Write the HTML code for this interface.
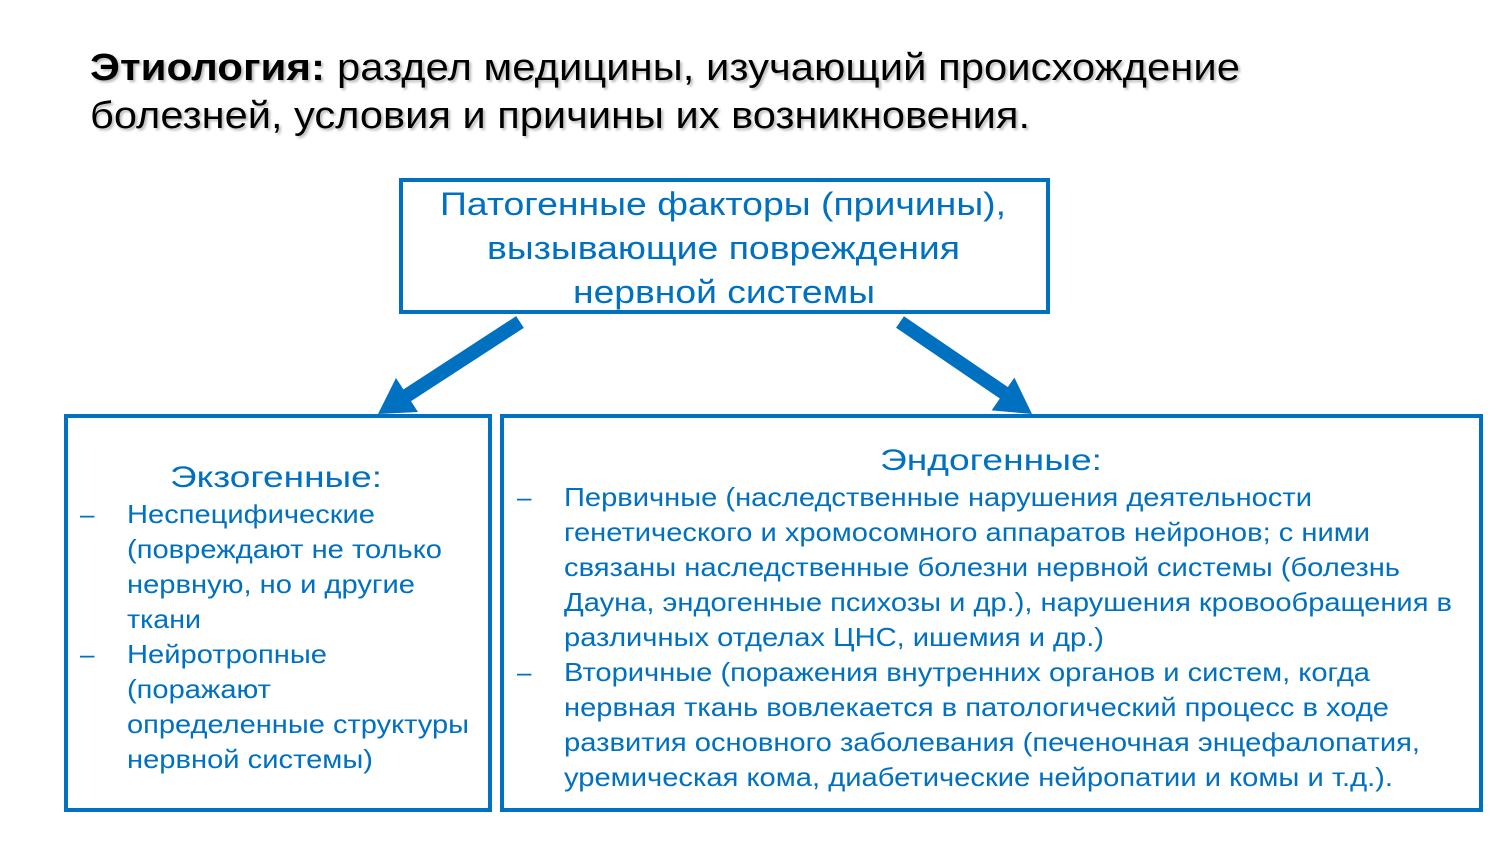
<!DOCTYPE html>
<html><head><meta charset="utf-8"><style>
html,body{margin:0;padding:0;background:#fff;}
svg{display:block;}
text{font-family:"Liberation Sans","DejaVu Sans",sans-serif;}
</style></head><body>
<svg width="1500" height="844" viewBox="0 0 1500 844" xmlns="http://www.w3.org/2000/svg">
<defs><filter id="sh" x="-5%" y="-20%" width="110%" height="150%"><feDropShadow dx="2" dy="2" stdDeviation="1.2" flood-color="#888" flood-opacity="0.6"/></filter></defs>
<g filter="url(#sh)" fill="#000" font-size="38">
<text x="90" y="80"><tspan font-weight="bold" textLength="235" lengthAdjust="spacingAndGlyphs">Этиология:</tspan></text>
<text x="337" y="80" textLength="903" lengthAdjust="spacingAndGlyphs">раздел медицины, изучающий происхождение</text>
<text x="90" y="128" textLength="940" lengthAdjust="spacingAndGlyphs">болезней, условия и причины их возникновения.</text>
</g>
<g fill="none" stroke="#0070C0" stroke-width="4">
<rect x="401" y="180" width="647" height="132"/>
<rect x="66" y="416" width="424" height="394"/>
<rect x="502" y="416" width="979" height="394"/>
</g>
<g stroke="#0070C0" stroke-width="14" fill="#0070C0">
<line x1="520" y1="322" x2="400" y2="400"/>
<line x1="900" y1="322" x2="1010" y2="397"/>
<polygon stroke="none" points="378,414 418,412 396,378"/>
<polygon stroke="none" points="1032,414 991.6,410.4 1014.4,377.6"/>
</g>
<g fill="#0070C0">
<g font-size="32">
<text x="440" y="215" textLength="566" lengthAdjust="spacingAndGlyphs">Патогенные факторы (причины),</text>
<text x="487" y="259" textLength="473" lengthAdjust="spacingAndGlyphs">вызывающие повреждения</text>
<text x="573" y="303" textLength="302" lengthAdjust="spacingAndGlyphs">нервной системы</text>
</g>
<g font-size="30">
<text x="170" y="487" textLength="212" lengthAdjust="spacingAndGlyphs">Экзогенные:</text>
<text x="880" y="470" textLength="222" lengthAdjust="spacingAndGlyphs">Эндогенные:</text>
</g>
<g font-size="26">
<text x="80" y="523">–</text>
<text x="127" y="523" textLength="248" lengthAdjust="spacingAndGlyphs">Неспецифические</text>
<text x="127" y="558" textLength="315" lengthAdjust="spacingAndGlyphs">(повреждают не только</text>
<text x="127" y="593" textLength="288" lengthAdjust="spacingAndGlyphs">нервную, но и другие</text>
<text x="127" y="628" textLength="74" lengthAdjust="spacingAndGlyphs">ткани</text>
<text x="80" y="663">–</text>
<text x="127" y="663" textLength="200" lengthAdjust="spacingAndGlyphs">Нейротропные</text>
<text x="127" y="698" textLength="144" lengthAdjust="spacingAndGlyphs">(поражают</text>
<text x="127" y="733" textLength="342" lengthAdjust="spacingAndGlyphs">определенные структуры</text>
<text x="127" y="768" textLength="246" lengthAdjust="spacingAndGlyphs">нервной системы)</text>

<text x="517" y="506">–</text>
<text x="564" y="506" textLength="748" lengthAdjust="spacingAndGlyphs">Первичные (наследственные нарушения деятельности</text>
<text x="564" y="541" textLength="806" lengthAdjust="spacingAndGlyphs">генетического и хромосомного аппаратов нейронов; с ними</text>
<text x="564" y="576" textLength="836" lengthAdjust="spacingAndGlyphs">связаны наследственные болезни нервной системы (болезнь</text>
<text x="564" y="611" textLength="888" lengthAdjust="spacingAndGlyphs">Дауна, эндогенные психозы и др.), нарушения кровообращения в</text>
<text x="564" y="646" textLength="540" lengthAdjust="spacingAndGlyphs">различных отделах ЦНС, ишемия и др.)</text>
<text x="517" y="681">–</text>
<text x="564" y="681" textLength="806" lengthAdjust="spacingAndGlyphs">Вторичные (поражения внутренних органов и систем, когда</text>
<text x="564" y="716" textLength="825" lengthAdjust="spacingAndGlyphs">нервная ткань вовлекается в патологический процесс в ходе</text>
<text x="564" y="751" textLength="856" lengthAdjust="spacingAndGlyphs">развития основного заболевания (печеночная энцефалопатия,</text>
<text x="564" y="786" textLength="829" lengthAdjust="spacingAndGlyphs">уремическая кома, диабетические нейропатии и комы и т.д.).</text>
</g>
</g>
</svg>
</body></html>
